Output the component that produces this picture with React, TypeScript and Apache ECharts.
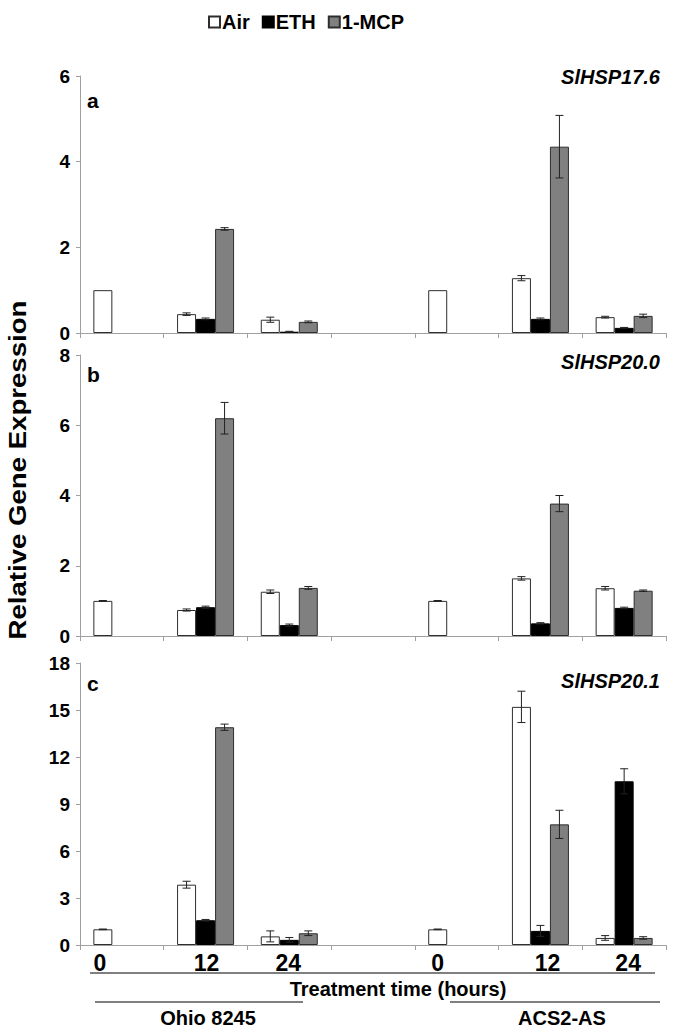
import React, { useEffect, useRef } from 'react';
import * as echarts from 'echarts';

const categories = ['0', '12', '24', '', '0', '12', '24'];
const seriesNames = ['Air', 'ETH', '1-MCP'];
const panelLetters = ['a', 'b', 'c'];
const geneNames = ['SlHSP17.6', 'SlHSP20.0', 'SlHSP20.1'];
const yMax = [6, 8, 18];
const yInterval = [2, 2, 3];
const labelShift = [-22, 1, -1, 0, -19, 7, 4];

// SlHSP17.6
const hsp176Air = [1.0, 0.44, 0.31, null, 1.0, 1.28, 0.37];
const hsp176Eth = [null, 0.33, 0.03, null, null, 0.33, 0.12];
const hsp176Mcp = [null, 2.43, 0.26, null, null, 4.35, 0.4];
const hsp176AirErr = [0, 0.03, 0.06, null, 0, 0.06, 0.02];
const hsp176EthErr = [null, 0.02, 0.01, null, null, 0.02, 0.01];
const hsp176McpErr = [null, 0.03, 0.02, null, null, 0.73, 0.04];

// SlHSP20.0
const hsp200Air = [1.0, 0.74, 1.26, null, 1.0, 1.64, 1.36];
const hsp200Eth = [null, 0.82, 0.31, null, null, 0.36, 0.8];
const hsp200Mcp = [null, 6.2, 1.37, null, null, 3.77, 1.29];
const hsp200AirErr = [0.01, 0.03, 0.05, null, 0.01, 0.05, 0.05];
const hsp200EthErr = [null, 0.03, 0.03, null, null, 0.02, 0.02];
const hsp200McpErr = [null, 0.45, 0.04, null, null, 0.23, 0.02];

// SlHSP20.1
const hsp201Air = [1.0, 3.85, 0.55, null, 1.0, 15.2, 0.45];
const hsp201Eth = [null, 1.58, 0.33, null, null, 0.9, 10.45];
const hsp201Mcp = [null, 13.9, 0.75, null, null, 7.7, 0.45];
const hsp201AirErr = [0.02, 0.22, 0.35, null, 0.02, 1.0, 0.15];
const hsp201EthErr = [null, 0.05, 0.15, null, null, 0.35, 0.8];
const hsp201McpErr = [null, 0.2, 0.15, null, null, 0.9, 0.08];

const panelValues = [
  [hsp176Air, hsp176Eth, hsp176Mcp],
  [hsp200Air, hsp200Eth, hsp200Mcp],
  [hsp201Air, hsp201Eth, hsp201Mcp],
];
const panelErrors = [
  [hsp176AirErr, hsp176EthErr, hsp176McpErr],
  [hsp200AirErr, hsp200EthErr, hsp200McpErr],
  [hsp201AirErr, hsp201EthErr, hsp201McpErr],
];

const FONT = '"Liberation Sans", Arial, Helvetica, sans-serif';
const BAR_FRAC = 0.227;
const barStyles = [
  { color: '#ffffff', borderColor: '#2e2e2e', borderWidth: 1 },
  { color: '#000000', borderColor: '#000000', borderWidth: 1 },
  { color: '#808080', borderColor: '#2e2e2e', borderWidth: 1 },
];

const grids = [
  { left: 80, right: 9, top: 76, height: 257 },
  { left: 80, right: 9, top: 355, height: 281 },
  { left: 80, right: 9, top: 663, height: 282 },
];

function buildOption() {
  const xAxis: any[] = [];
  const yAxis: any[] = [];
  const series: any[] = [];
  const axisColor = '#a0a0a0';

  for (let p = 0; p < 3; p++) {
    const isLast = p === 2;
    xAxis.push({
      type: 'category',
      gridIndex: p,
      data: categories,
      boundaryGap: true,
      axisLine: { show: true, lineStyle: { color: axisColor, width: 1 } },
      axisTick: { show: true, length: 5, lineStyle: { color: axisColor } },
      axisLabel: isLast
        ? {
            show: true,
            interval: 0,
            margin: 6,
            formatter: (val: string, idx: number) => `{s${idx}|${val}}`,
            rich: Object.fromEntries(
              labelShift.map((s, i) => [
                `s${i}`,
                {
                  fontSize: 23,
                  fontWeight: 'bold',
                  fontFamily: FONT,
                  color: '#000',
                  padding: s < 0 ? [0, -2 * s, 0, 0] : [0, 0, 0, 2 * s],
                },
              ])
            ),
          }
        : { show: false },
      splitLine: { show: false },
    });
    yAxis.push({
      type: 'value',
      gridIndex: p,
      min: 0,
      max: yMax[p],
      interval: yInterval[p],
      axisLine: { show: true, lineStyle: { color: axisColor, width: 1 } },
      axisTick: { show: true, length: 4, lineStyle: { color: axisColor } },
      axisLabel: {
        color: '#000',
        fontSize: 19,
        fontWeight: 'bold',
        fontFamily: FONT,
        margin: 10,
      },
      splitLine: { show: false },
    });

    for (let k = 0; k < 3; k++) {
      series.push({
        type: 'bar',
        name: seriesNames[k],
        xAxisIndex: p,
        yAxisIndex: p,
        data: panelValues[p][k],
        barWidth: `${BAR_FRAC * 100}%`,
        barGap: '0%',
        itemStyle: barStyles[k],
        emphasis: { disabled: true },
      });
    }

    const errData: any[] = [];
    for (let k = 0; k < 3; k++) {
      panelValues[p][k].forEach((v, i) => {
        const e = panelErrors[p][k][i];
        if (v != null && e != null && e > 0) errData.push([i, v, e, k]);
      });
    }
    series.push({
      type: 'custom',
      name: 'err' + p,
      xAxisIndex: p,
      yAxisIndex: p,
      data: errData,
      encode: { x: 0, y: 1 },
      z: 10,
      renderItem: (params: any, api: any) => {
        const cat = api.value(0);
        const v = api.value(1);
        const e = api.value(2);
        const k = api.value(3);
        const band = api.size([1, 0])[0];
        const base = api.coord([cat, v]);
        const x = base[0] + (k - 1) * band * BAR_FRAC;
        const yTop = api.coord([cat, v + e])[1];
        const yBot = api.coord([cat, Math.max(v - e, 0)])[1];
        const cap = 4;
        const st = { stroke: '#222', lineWidth: 1 };
        return {
          type: 'group',
          children: [
            { type: 'line', shape: { x1: x, y1: yTop, x2: x, y2: yBot }, style: st },
            { type: 'line', shape: { x1: x - cap, y1: yTop, x2: x + cap, y2: yTop }, style: st },
            { type: 'line', shape: { x1: x - cap, y1: yBot, x2: x + cap, y2: yBot }, style: st },
          ],
        };
      },
    });
  }

  const letterY = [100, 374, 683];
  const geneY = [77, 362, 681];
  const graphic: any[] = [];
  for (let p = 0; p < 3; p++) {
    graphic.push({
      type: 'text',
      x: 87,
      y: letterY[p],
      style: {
        text: panelLetters[p],
        fontSize: 21,
        fontWeight: 'bold',
        fontFamily: FONT,
        fill: '#000',
        verticalAlign: 'middle',
      },
    });
    graphic.push({
      type: 'text',
      x: 660,
      y: geneY[p],
      style: {
        text: geneNames[p],
        fontSize: 20,
        fontWeight: 'bold',
        fontStyle: 'italic',
        fontFamily: FONT,
        fill: '#000',
        align: 'right',
        verticalAlign: 'middle',
      },
    });
  }
  graphic.push({
    type: 'text',
    x: 18,
    y: 470,
    rotation: Math.PI / 2,
    scaleX: 1.2,
    style: {
      text: 'Relative Gene Expression',
      fontSize: 23,
      fontWeight: 'bold',
      fontFamily: FONT,
      fill: '#000',
      align: 'center',
      verticalAlign: 'middle',
    },
  });
  const lineStyle = { stroke: '#000', lineWidth: 1 };
  graphic.push({ type: 'line', shape: { x1: 90, y1: 973, x2: 655, y2: 973 }, style: lineStyle });
  graphic.push({ type: 'line', shape: { x1: 95, y1: 1002, x2: 303, y2: 1002 }, style: lineStyle });
  graphic.push({ type: 'line', shape: { x1: 450, y1: 1002, x2: 660, y2: 1002 }, style: lineStyle });
  const bottomTexts = [
    { text: 'Treatment time (hours)', x: 398, y: 989 },
    { text: 'Ohio 8245', x: 208, y: 1018 },
    { text: 'ACS2-AS', x: 562, y: 1018 },
  ];
  bottomTexts.forEach((t) =>
    graphic.push({
      type: 'text',
      x: t.x,
      y: t.y,
      style: {
        text: t.text,
        fontSize: 20,
        fontWeight: 'bold',
        fontFamily: FONT,
        fill: '#000',
        align: 'center',
        verticalAlign: 'middle',
      },
    })
  );

  return {
    animation: false,
    backgroundColor: '#ffffff',
    legend: {
      data: seriesNames,
      left: 203,
      top: 7,
      itemWidth: 11,
      itemHeight: 11,
      itemGap: 12,
      icon: 'rect',
      selectedMode: false,
      textStyle: { fontSize: 20, fontWeight: 'bold', fontFamily: FONT, color: '#000', padding: [0, 0, 0, -3] },
    },
    grid: grids,
    xAxis,
    yAxis,
    series,
    graphic,
  };
}

export default function App() {
  const ref = useRef<HTMLDivElement>(null);
  useEffect(() => {
    document.body.style.margin = '0';
    if (!ref.current) return;
    const chart = echarts.init(ref.current, undefined, { renderer: 'svg' });
    chart.setOption(buildOption() as any);
    return () => chart.dispose();
  }, []);
  return <div ref={ref} style={{ width: 675, height: 1032 }} />;
}
